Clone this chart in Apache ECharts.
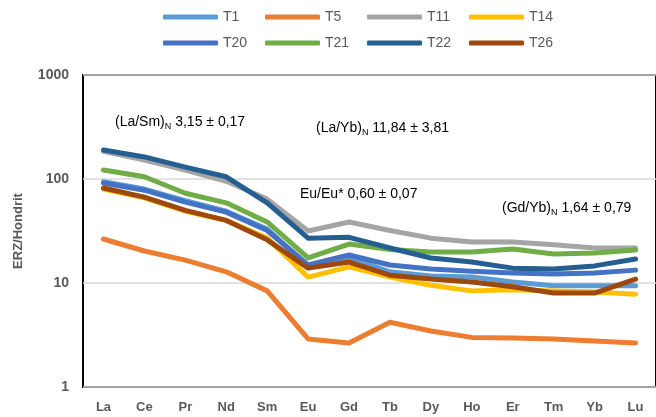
<!DOCTYPE html>
<html>
<head>
<meta charset="utf-8">
<script src="https://cdn.jsdelivr.net/npm/echarts@6/dist/echarts.min.js"></script>
<style>
  html, body { margin: 0; padding: 0; background: #fff; }
  #chart { width: 656px; height: 417px; }
</style>
</head>
<body>
<div id="chart"></div>
<script>
// REE elements (chondrite-normalised)
const categories = ['La', 'Ce', 'Pr', 'Nd', 'Sm', 'Eu', 'Gd', 'Tb', 'Dy', 'Ho', 'Er', 'Tm', 'Yb', 'Lu'];

const T1  = [94, 80, 62, 49, 33, 14.5, 17.5, 12.8, 11.7, 11.4, 10.2, 9.4, 9.4, 9.4];
const T5  = [26.5, 20.3, 16.6, 12.8, 8.4, 2.9, 2.65, 4.2, 3.45, 3.0, 2.96, 2.9, 2.77, 2.65];
const T11 = [185, 152, 122, 95, 64, 31.6, 38.6, 32, 27, 24.8, 24.8, 23.3, 21.7, 21.7];
const T14 = [80, 66, 49, 40, 27, 11.4, 14.3, 11.4, 9.5, 8.4, 8.6, 8.4, 8.2, 7.8];
const T20 = [91.6, 78, 60, 48, 32, 14.9, 18.6, 14.9, 13.6, 13.0, 12.5, 12.2, 12.5, 13.3];
const T21 = [122, 105, 73, 59, 38.6, 17.4, 23.7, 21, 19.9, 19.9, 21.2, 19.0, 19.4, 20.8];
const T22 = [190, 163, 130, 105, 59, 27, 27.5, 21.7, 17.4, 15.9, 13.9, 13.6, 14.6, 17.0];
const T26 = [82, 67, 50, 40, 26, 13.9, 15.9, 11.9, 10.9, 10.2, 9.2, 8.0, 8.0, 10.9];

const seriesNames = ['T1', 'T5', 'T11', 'T14', 'T20', 'T21', 'T22', 'T26'];
const seriesData = [T1, T5, T11, T14, T20, T21, T22, T26];
const colors = ['#5B9BD5', '#ED7D31', '#A5A5A5', '#FFC000', '#4472C4', '#70AD47', '#255E91', '#9E480E'];

const yTicks = [1, 10, 100, 1000];

const FONT = 'Liberation Sans, Arial, sans-serif';

const chart = echarts.init(document.getElementById('chart'), null, { renderer: 'canvas' });

// one legend per entry so the 4x2 layout uses evenly spaced columns
const legendCols = [163, 265, 367, 469];
const legendRows = [10, 36];
const legends = seriesNames.map((name, i) => ({
  data: [name],
  left: legendCols[i % 4],
  top: legendRows[Math.floor(i / 4)],
  padding: 0,
  icon: 'roundRect',
  itemWidth: 55,
  itemHeight: 5,
  textStyle: { color: '#595959', fontSize: 14, fontFamily: FONT },
  selectedMode: false
}));

function note(x, y, head, sub, tail) {
  return {
    type: 'text',
    left: x,
    top: y,
    style: {
      text: sub ? '{a|' + head + '}{s|' + sub + '}{a|' + tail + '}' : '{a|' + head + tail + '}',
      fill: '#000',
      rich: {
        a: { fontSize: 14, fontFamily: FONT, color: '#1a1a1a' },
        s: { fontSize: 9, fontFamily: FONT, color: '#1a1a1a', padding: [9, 0, 0, 0] }
      }
    }
  };
}

chart.setOption({
  animation: false,
  color: colors,
  legend: legends,
  grid: {
    left: 83, top: 75, width: 581, height: 312,
    show: true, borderColor: '#000', borderWidth: 2, backgroundColor: 'transparent'
  },
  xAxis: {
    type: 'category',
    data: categories,
    boundaryGap: true,
    axisLine: { show: false },
    axisTick: { show: false },
    axisLabel: { color: '#595959', fontWeight: 'bold', fontSize: 13, margin: 14, fontFamily: FONT }
  },
  yAxis: {
    type: 'log',
    logBase: 10,
    min: yTicks[0],
    max: yTicks[yTicks.length - 1],
    name: 'ERZ/Hondrit',
    nameLocation: 'middle',
    nameGap: 58,
    nameTextStyle: { color: '#595959', fontWeight: 'bold', fontSize: 13, fontFamily: FONT },
    axisLine: { show: false },
    axisTick: { show: false },
    minorTick: { show: false },
    splitLine: { show: true, lineStyle: { color: '#D9D9D9', width: 1.5 } },
    axisLabel: {
      color: '#595959', fontWeight: 'bold', fontSize: 14, margin: 14, fontFamily: FONT,
      formatter: v => String(Math.round(v))
    }
  },
  graphic: [
    note(115, 115, '(La/Sm)', 'N', ' 3,15 ± 0,17'),
    note(316, 121, '(La/Yb)', 'N', ' 11,84 ± 3,81'),
    note(300, 187, 'Eu/Eu* 0,60 ± 0,07', '', ''),
    note(502, 201, '(Gd/Yb)', 'N', ' 1,64 ± 0,79')
  ],
  series: seriesNames.map((name, i) => ({
    name: name,
    type: 'line',
    data: seriesData[i],
    symbol: 'none',
    lineStyle: { width: 5, color: colors[i], cap: 'round', join: 'round' },
    itemStyle: { color: colors[i] },
    z: 2 + i
  }))
});
</script>
</body>
</html>
